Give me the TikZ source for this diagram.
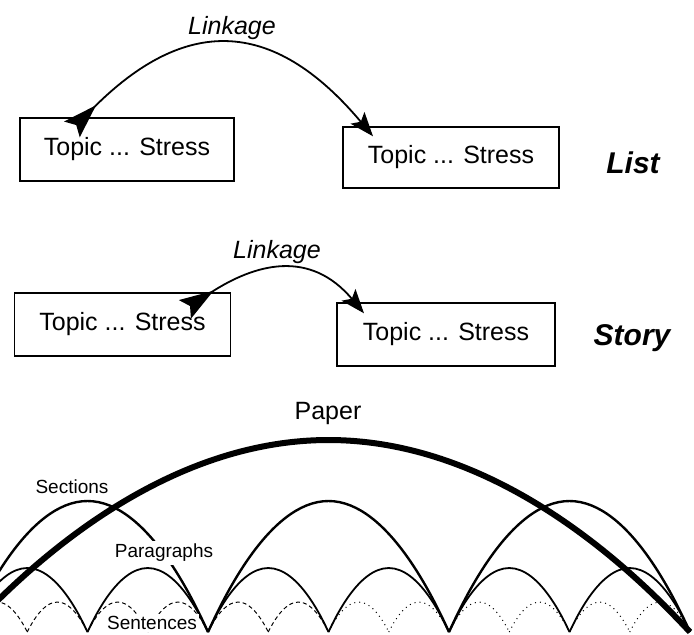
\documentclass[tikz,border=0pt]{standalone}
\usepackage{fontspec}
\setmainfont{Liberation Sans}
\usetikzlibrary{arrows.meta}
\def\arch[#1](#2:#3:#4){\draw[#1] (#2, 632) parabola bend ({(#2+#3)/2}, {632-#4}) (#3, 632);}
\tikzset{
	topicbox/.style={draw, line width=0.7pt, minimum width=108pt, minimum height=31.5pt, inner sep=0pt, font=\fontsize{12.5}{15}\selectfont},
	linklabel/.style={font=\fontsize{12.5}{15}\selectfont\itshape},
	kindlabel/.style={font=\fontsize{15}{18}\selectfont\bfseries\itshape},
	levellabel/.style={font=\fontsize{9.5}{11}\selectfont, inner sep=1pt},
	linkage/.style={line width=0.9pt, {Stealth[length=17pt, width=11pt, inset=3pt, reversed]}-{Stealth[length=12pt, width=9pt, inset=2.5pt]}},
	paperarc/.style={line width=3pt},
	sectionarc/.style={line width=1.2pt},
	paragrapharc/.style={line width=0.9pt},
	sentencearc/.style={line width=0.5pt, dash pattern=on 2pt off 1.5pt},
	sentencedots/.style={line width=0.5pt, dotted}
}

\begin{document}
\begin{tikzpicture}[x=0.5pt, y=-0.5pt]
	%%%%% START %%%%%
	\useasboundingbox (0, 0) rectangle (694, 634);
	\clip (0, 0) rectangle (694, 634);
	
	% list
	\node[topicbox, minimum width=107pt] (topicA) at (127, 149.5) {Topic ... Stress};
	\node[topicbox, minimum height=30.5pt] (topicB) at (451, 157.5) {Topic ... Stress};
	\draw[linkage] ([shift={(-55, 12)}]topicA.north) to[out=45, in=130, looseness=1.34] ([shift={(-78, 10)}]topicB.north);
	\node[linklabel] (linkA) at (232, 28) {Linkage};
	\node[kindlabel] (list) at (633, 163) {List};
	
	% story
	\node[topicbox] (topicC) at (122.5, 324.5) {Topic ... Stress};
	\node[topicbox, minimum width=109pt] (topicD) at (446, 334.5) {Topic ... Stress};
	\draw[linkage] ([shift={(62.5, 17)}]topicC.north) to[out=33, in=130, looseness=1.2] ([shift={(-82, 11)}]topicD.north);
	\node[linklabel] (linkB) at (277, 252) {Linkage};
	\node[kindlabel] (story) at (632, 338) {Story};
	
	% sentences
	\arch[sentencearc](-33:27.25:30)
	\arch[sentencearc](27.25:87.5:30)
	\arch[sentencearc](87.5:147.75:30)
	\arch[sentencearc](147.75:208:30)
	\arch[sentencearc](208:268.25:30)
	\arch[sentencearc](268.25:328.5:30)
	\arch[sentencedots](328.5:388.75:30)
	\arch[sentencedots](388.75:449:30)
	\arch[sentencedots](449:509.25:30)
	\arch[sentencedots](509.25:569.5:30)
	\arch[sentencedots](569.5:629.75:30)
	\arch[sentencedots](629.75:690:30)
	
	% paragraphs
	\arch[paragrapharc](-33:87.5:64)
	\arch[paragrapharc](87.5:208:64)
	\arch[paragrapharc](208:328.5:64)
	\arch[paragrapharc](328.5:449:64)
	\arch[paragrapharc](449:569.5:64)
	\arch[paragrapharc](569.5:690:64)
	
	% sections and paper
	\arch[sectionarc](-33:208:131)
	\arch[sectionarc](208:449:131)
	\arch[sectionarc](449:690:131)
	\arch[paperarc](-33:690:192)
	
	\node[levellabel, font=\fontsize{12.5}{15}\selectfont] (paper) at (328, 413) {Paper};
	\node[levellabel] (sections) at (72, 487) {Sections};
	\node[levellabel, fill=white, inner sep=1.5pt] (paragraphs) at (164, 553) {Paragraphs};
	\node[levellabel, fill=white] (sentences) at (152, 623) {Sentences};
	
	%%%%% END %%%%%
\end{tikzpicture}
\end{document}
